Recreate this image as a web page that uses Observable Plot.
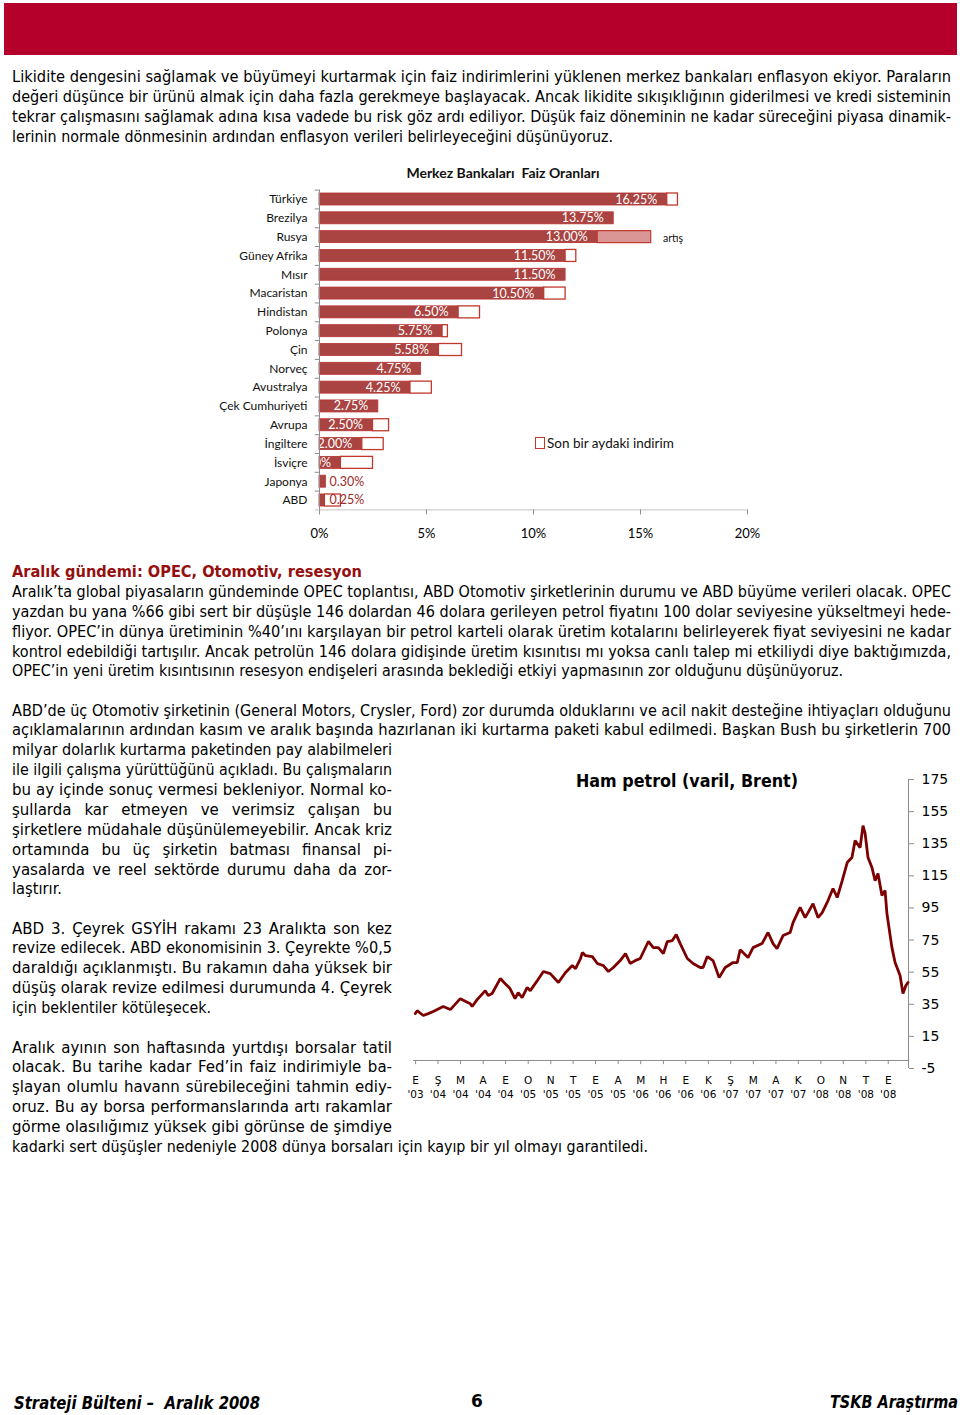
<!DOCTYPE html>
<html><head><meta charset="utf-8">
<script src="https://cdn.jsdelivr.net/npm/d3@7"></script>
<script src="https://cdn.jsdelivr.net/npm/@observablehq/plot@0.6"></script>
<style>
html,body{margin:0;padding:0;background:#fff;}
#page{position:relative;width:960px;height:1415px;overflow:hidden;background:#fff;font-family:"DejaVu Sans",sans-serif;}
.ln{position:absolute;white-space:pre;font-size:15px;line-height:20px;color:#000;transform-origin:0 50%;}
.abs{position:absolute;white-space:pre;}
</style></head><body><div id="page"></div>
<script>
// ---------- Bar chart data: Merkez Bankaları Faiz Oranları ----------
const countries = ["Türkiye","Brezilya","Rusya","Güney Afrika","Mısır","Macaristan","Hindistan","Polonya","Çin","Norveç","Avustralya","Çek Cumhuriyeti","Avrupa","İngiltere","İsviçre","Japonya","ABD"];
const rates = [16.25,13.75,13.00,11.50,11.50,10.50,6.50,5.75,5.58,4.75,4.25,2.75,2.50,2.00,1.00,0.30,0.25];
const cuts  = [0.50,0,0,0.50,0,1.00,1.00,0.25,1.08,0,1.00,0,0.75,1.00,1.50,0,0.75];   // Son bir aydaki indirim
const rises = [0,0,2.50,0,0,0,0,0,0,0,0,0,0,0,0,0,0];                                 // artış
const rateTicks = [0,5,10,15,20];

// ---------- Line chart data: Ham petrol (varil, Brent) ----------
const oilDates = ["2003-10-25","2003-11-01","2003-11-24","2003-12-13","2004-01-01","2004-02-08","2004-03-06","2004-04-13","2004-05-21","2004-05-28","2004-06-16","2004-07-17","2004-07-28","2004-08-12","2004-09-12","2004-09-30","2004-10-19","2004-11-07","2004-11-19","2004-12-04","2004-12-23","2005-01-04","2005-01-31","2005-02-23","2005-03-21","2005-04-21","2005-05-18","2005-06-13","2005-06-25","2005-07-14","2005-07-21","2005-08-02","2005-08-28","2005-09-16","2005-10-09","2005-10-28","2005-11-16","2005-12-12","2006-01-01","2006-01-19","2006-02-07","2006-02-26","2006-03-29","2006-04-17","2006-05-06","2006-05-25","2006-06-09","2006-06-28","2006-07-13","2006-07-28","2006-08-24","2006-09-15","2006-10-12","2006-10-23","2006-11-08","2006-11-30","2006-12-23","2007-01-15","2007-02-14","2007-03-02","2007-03-13","2007-04-12","2007-05-01","2007-06-04","2007-06-27","2007-07-16","2007-07-31","2007-08-23","2007-09-19","2007-09-30","2007-10-27","2007-11-15","2007-11-26","2007-12-15","2008-01-03","2008-01-19","2008-02-10","2008-02-29","2008-03-16","2008-04-04","2008-04-23","2008-05-11","2008-05-23","2008-06-11","2008-06-22","2008-06-30","2008-07-11","2008-07-26","2008-08-07","2008-08-18","2008-09-02","2008-09-14","2008-09-21","2008-10-10","2008-10-22","2008-11-10","2008-11-21","2008-12-02","2008-12-10"];
const oilPrices = [29.2,31.0,28.0,29.2,30.5,33.6,31.7,38.5,35.4,33.6,37.9,43.5,40.4,41.7,51.0,47.9,44.8,38.5,42.3,39.2,45.4,43.5,49.8,55.4,54.1,48.6,54.8,59.1,57.2,63.5,67.2,65.3,64.7,60.4,59.1,55.4,57.9,62.2,66.6,60.4,62.2,63.5,74.1,70.3,70.3,66.6,74.1,74.7,78.4,72.8,63.5,60.4,57.9,57.9,64.7,62.2,51.6,57.9,61.0,61.0,69.0,64.1,70.3,72.8,79.7,72.8,69.7,77.8,79.7,85.9,95.3,89.0,92.1,97.7,89.0,92.1,99.6,107.1,101.5,112.0,123.3,126.4,137.0,132.6,146.3,141.4,126.4,120.2,112.0,116.4,102.7,105.8,91.5,70.3,61.0,52.9,41.7,46.7,48.6];
const oilDomain = ["2003-10-18","2008-12-12"];
const oilTickDates = ["2003-10-26","2004-01-19","2004-04-14","2004-07-09","2004-10-02","2004-12-27","2005-03-23","2005-06-16","2005-09-09","2005-12-04","2006-02-28","2006-05-25","2006-08-18","2006-11-12","2007-02-05","2007-05-02","2007-07-27","2007-10-20","2008-01-14","2008-04-08","2008-07-03","2008-09-26"];
const oilTickMonths = ["E","Ş","M","A","E","O","N","T","E","A","M","H","E","K","Ş","M","A","K","O","N","T","E"];
const oilTickYears = ["'03","'04","'04","'04","'04","'05","'05","'05","'05","'05","'06","'06","'06","'06","'07","'07","'07","'07","'08","'08","'08","'08"];
const priceTicks = [-5,15,35,55,75,95,115,135,155,175];

// ---------- Page text ----------
const pageText = [
 ["Likidite dengesini sağlamak ve büyümeyi kurtarmak için faiz indirimlerini yüklenen merkez bankaları enflasyon ekiyor. Paraların",12,77,951],
 ["değeri düşünce bir ürünü almak için daha fazla gerekmeye başlayacak. Ancak likidite sıkışıklığının giderilmesi ve kredi sisteminin",12,97,951],
 ["tekrar çalışmasını sağlamak adına kısa vadede bu risk göz ardı ediliyor. Düşük faiz döneminin ne kadar süreceğini piyasa dinamik-",12,117,951],
 ["lerinin normale dönmesinin ardından enflasyon verileri belirleyeceğini düşünüyoruz.",12,137,613],
 ["Aralık’ta global piyasaların gündeminde OPEC toplantısı, ABD Otomotiv şirketlerinin durumu ve ABD büyüme verileri olacak. OPEC",12,592,951],
 ["yazdan bu yana %66 gibi sert bir düşüşle 146 dolardan 46 dolara gerileyen petrol fiyatını 100 dolar seviyesine yükseltmeyi hede-",12,612,951],
 ["fliyor. OPEC’in dünya üretiminin %40’ını karşılayan bir petrol karteli olarak üretim kotalarını belirleyerek fiyat seviyesini ne kadar",12,632,951],
 ["kontrol edebildiği tartışılır. Ancak petrolün 146 dolara gidişinde üretim kısınıtısı mı yoksa canlı talep mi etkiliydi diye baktığımızda,",12,652,951],
 ["OPEC’in yeni üretim kısıntısının resesyon endişeleri arasında beklediği etkiyi yapmasının zor olduğunu düşünüyoruz.",12,671,843],
 ["ABD’de üç Otomotiv şirketinin (General Motors, Crysler, Ford) zor durumda olduklarını ve acil nakit desteğine ihtiyaçları olduğunu",12,711,951],
 ["açıklamalarının ardından kasım ve aralık başında hazırlanan iki kurtarma paketi kabul edilmedi. Başkan Bush bu şirketlerin 700",12,730,951],
 ["milyar dolarlık kurtarma paketinden pay alabilmeleri",12,750,392],
 ["ile ilgili çalışma yürüttüğünü açıkladı. Bu çalışmaların",12,770,392],
 ["bu ay içinde sonuç vermesi bekleniyor. Normal ko-",12,790,392],
 ["şullarda kar etmeyen ve verimsiz çalışan bu",12,810,392],
 ["şirketlere müdahale düşünülemeyebilir. Ancak kriz",12,830,392],
 ["ortamında bu üç şirketin batması finansal pi-",12,850,392],
 ["yasalarda ve reel sektörde durumu daha da zor-",12,870,392],
 ["laştırır.",12,889,62],
 ["ABD 3. Çeyrek GSYİH rakamı 23 Aralıkta son kez",12,929,392],
 ["revize edilecek. ABD ekonomisinin 3. Çeyrekte %0,5",12,948,392],
 ["daraldığı açıklanmıştı. Bu rakamın daha yüksek bir",12,968,392],
 ["düşüş olarak revize edilmesi durumunda 4. Çeyrek",12,988,392],
 ["için beklentiler kötüleşecek.",12,1008,211],
 ["Aralık ayının son haftasında yurtdışı borsalar tatil",12,1048,392],
 ["olacak. Bu tarihe kadar Fed’in faiz indirimiyle ba-",12,1067,392],
 ["şlayan olumlu havann sürebileceğini tahmin ediy-",12,1087,392],
 ["oruz. Bu ay borsa performanslarında artı rakamlar",12,1107,392],
 ["görme olasılığımız yüksek gibi görünse de şimdiye",12,1127,392],
 ["kadarki sert düşüşler nedeniyle 2008 dünya borsaları için kayıp bir yıl olmayı garantiledi.",12,1147,648]
];

const page = document.getElementById("page");

function addLine(text, x, cy, endX, style = {}) {
  const el = document.createElement("div");
  el.className = "ln";
  el.textContent = text;
  const lh = style.lineHeight ? parseFloat(style.lineHeight) : 20;
  Object.assign(el.style, style, {left: x + "px", top: (cy - lh / 2) + "px"});
  page.appendChild(el);
  const w = el.getBoundingClientRect().width;
  const target = endX - x;
  if (w > target) el.style.transform = `scaleX(${target / w})`;
  else {
    const n = (text.match(/ /g) || []).length;
    if (n) el.style.wordSpacing = ((target - w) / n) + "px";
  }
  return el;
}
function addBox(left, top, w, h, css) {
  const d = document.createElement("div");
  d.className = "abs";
  Object.assign(d.style, {left: left + "px", top: top + "px", width: w + "px", height: h + "px"}, css);
  page.appendChild(d);
  return d;
}
function addLabel(text, left, cy, css, anchor = "start") {
  const d = document.createElement("div");
  d.className = "abs";
  d.textContent = text;
  Object.assign(d.style, {top: (cy - 10) + "px", lineHeight: "20px"}, css);
  page.appendChild(d);
  const w = d.getBoundingClientRect().width;
  d.style.left = (anchor === "middle" ? left - w / 2 : anchor === "end" ? left - w : left) + "px";
  return d;
}

// header band
addBox(4, 3, 953, 52, {background: "#b5002b"});

// body text
for (const [t, x, y, e] of pageText) addLine(t, x, y, e);
addLine("Aralık gündemi: OPEC, Otomotiv, resesyon", 12, 572, 362, {fontWeight: "bold", fontSize: "16px", color: "#960f0f"});

// footer
addLine("Strateji Bülteni –  Aralık 2008", 14, 1403, 260, {fontWeight: "bold", fontStyle: "italic", fontSize: "17px"});
addLabel("6", 477, 1401, {fontWeight: "bold", fontSize: "17px", fontFamily: "DejaVu Sans"}, "middle");
addLine("TSKB Araştırma", 830, 1402, 958, {fontWeight: "bold", fontStyle: "italic", fontSize: "17px"});

// ---------- Bar chart ----------
const rows = countries.map((c, i) => ({country: c, rate: rates[i], cut: cuts[i], rise: rises[i]}));
const fmt = d => d.rate.toFixed(2) + "%";
const inset = 3.4;
const barPlot = Plot.plot({
  width: 960, height: 390,
  marginLeft: 319, marginRight: 213, marginTop: 29.6, marginBottom: 40.6,
  style: {fontFamily: "Lato, sans-serif", fontSize: "12px", background: "transparent", color: "#000", overflow: "visible"},
  x: {domain: [0, 20]},
  y: {domain: countries, padding: 0, round: false},
  marks: [
    Plot.barX(rows, {y: "country", x1: 0, x2: "rate", insetTop: inset, insetBottom: inset, fill: "#a94442", stroke: "#b8312f", strokeWidth: 0.8}),
    Plot.barX(rows.filter(d => d.cut > 0), {y: "country", x1: "rate", x2: d => d.rate + d.cut, insetTop: inset, insetBottom: inset, fill: "#fff", stroke: "#c0392b", strokeWidth: 1.3}),
    Plot.barX(rows.filter(d => d.rise > 0), {y: "country", x1: "rate", x2: d => d.rate + d.rise, insetTop: inset, insetBottom: inset, fill: "#d99694", stroke: "#c0392b", strokeWidth: 1.2}),
    Plot.text(rows.filter(d => d.rate >= 1), {y: "country", x: "rate", text: fmt, textAnchor: "end", dx: -10, fill: "#fff", fontSize: 12.5, clip: true}),
    Plot.text(rows.filter(d => d.rate < 1), {y: "country", x: 0, text: fmt, textAnchor: "start", dx: 10, fill: "#9c2a2a", fontSize: 12.5}),
    Plot.ruleX([0], {stroke: "#8c8c8c"}),
    Plot.ruleY(countries, {y: d => d, x1: -0.2, x2: 0, dy: -9.4, stroke: "#8c8c8c"}),
    Plot.ruleY([countries[countries.length - 1]], {y: d => d, x1: -0.2, x2: 20, dy: 9.4, stroke: "#c4c4c4"}),
    Plot.axisX({ticks: rateTicks, tickFormat: d => d + "%", tickSize: 5, tickPadding: 14, fontSize: 13, stroke: "#8c8c8c", fill: "#000", label: null}),
    Plot.axisY({tickSize: 0, tickPadding: 12, fontSize: 12, fill: "#111", label: null})
  ]
});
Object.assign(barPlot.style, {position: "absolute", left: "0px", top: "160px"});
page.appendChild(barPlot);

addLabel("Merkez Bankaları  Faiz Oranları", 503, 173, {fontFamily: "Lato, sans-serif", fontWeight: "bold", fontSize: "14px", color: "#111"}, "middle");
addLabel("artış", 663, 238, {fontFamily: "Lato, sans-serif", fontSize: "10.5px", color: "#111"});
addBox(535, 437, 8, 10, {background: "#fff", border: "1.5px solid #c0392b"});
addLabel("Son bir aydaki indirim", 547, 443, {fontFamily: "Lato, sans-serif", fontSize: "13.5px", color: "#111"});

// ---------- Oil chart ----------
const oil = oilDates.map((d, i) => ({date: new Date(d), price: oilPrices[i]}));
const oilTicks = oilTickDates.map((d, i) => ({date: new Date(d), m: oilTickMonths[i], yr: oilTickYears[i]}));
const xDom = oilDomain.map(d => new Date(d));
const oilPlot = Plot.plot({
  width: 560, height: 348,
  marginLeft: 13, marginRight: 52, marginTop: 19, marginBottom: 40,
  style: {fontFamily: "DejaVu Sans, sans-serif", fontSize: "11px", background: "transparent", color: "#000", overflow: "visible"},
  x: {type: "utc", domain: xDom, axis: null},
  y: {domain: [-5, 175]},
  marks: [
    Plot.ruleY([0], {stroke: "#8c8c8c"}),
    Plot.ruleX(oilTicks, {x: "date", y1: 0, y2: -2.6, stroke: "#8c8c8c"}),
    Plot.ruleX([xDom[1]], {y1: -5, y2: 175, stroke: "#8c8c8c"}),
    Plot.axisY({anchor: "right", ticks: priceTicks, tickFormat: d => String(d), tickSize: 5, tickPadding: 8, fontSize: 14, stroke: "#8c8c8c", fill: "#000", label: null}),
    Plot.lineY(oil, {x: "date", y: "price", stroke: "#7d0000", strokeWidth: 2.8, strokeLinejoin: "miter"}),
    Plot.text(oilTicks, {x: "date", text: d => d.m + "\n" + d.yr, frameAnchor: "bottom", lineAnchor: "top", dy: 6, lineHeight: 1.3, fontSize: 10.5, fill: "#000"})
  ]
});
Object.assign(oilPlot.style, {position: "absolute", left: "400px", top: "760px"});
page.appendChild(oilPlot);
addLine("Ham petrol (varil, Brent)", 576, 781, 798, {fontWeight: "bold", fontSize: "17px", lineHeight: "22px"});
</script></body></html>
